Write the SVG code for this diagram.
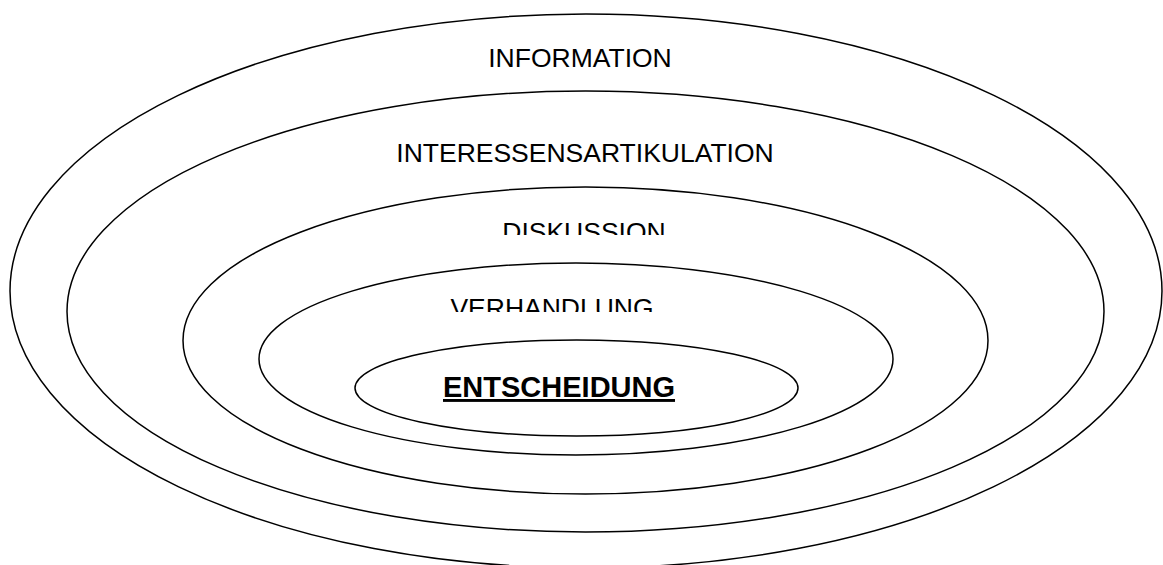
<svg xmlns="http://www.w3.org/2000/svg" width="1163" height="565" viewBox="0 0 1163 565">
<style>
.ring{fill:none;stroke:#000;stroke-width:1.5}
.lbl{font-family:"Liberation Sans",Arial,sans-serif;font-size:26.5px;fill:#000;text-anchor:middle}
.core{font-family:"Liberation Sans",Arial,sans-serif;font-size:29px;font-weight:bold;fill:#000;text-decoration:underline}
</style>
<defs>
<clipPath id="clipDisk"><rect x="0" y="0" width="1163" height="235"/></clipPath>
<clipPath id="clipVerh"><rect x="0" y="0" width="1163" height="312"/></clipPath>
</defs>
<rect width="1163" height="565" fill="#fff"/>
<g id="information">
<ellipse class="ring" cx="586" cy="291" rx="576" ry="277"/>
<text class="lbl" x="580" y="67">INFORMATION</text>
</g>
<g id="interessensartikulation">
<ellipse class="ring" cx="585.5" cy="311.5" rx="518.5" ry="220.5"/>
<text class="lbl" x="585" y="162">INTERESSENSARTIKULATION</text>
</g>
<g id="diskussion">
<ellipse class="ring" cx="585.5" cy="340.5" rx="402.5" ry="153.5"/>
<text class="lbl" x="584" y="241" clip-path="url(#clipDisk)">DISKUSSION</text>
</g>
<g id="verhandlung">
<ellipse class="ring" cx="576" cy="359" rx="317" ry="96"/>
<text class="lbl" x="552" y="317" clip-path="url(#clipVerh)">VERHANDLUNG</text>
</g>
<g id="entscheidung">
<ellipse class="ring" cx="576.5" cy="388" rx="221.5" ry="48"/>
<text class="core" x="443" y="397">ENTSCHEIDUNG</text>
</g>
<g id="connectors"/>
</svg>
